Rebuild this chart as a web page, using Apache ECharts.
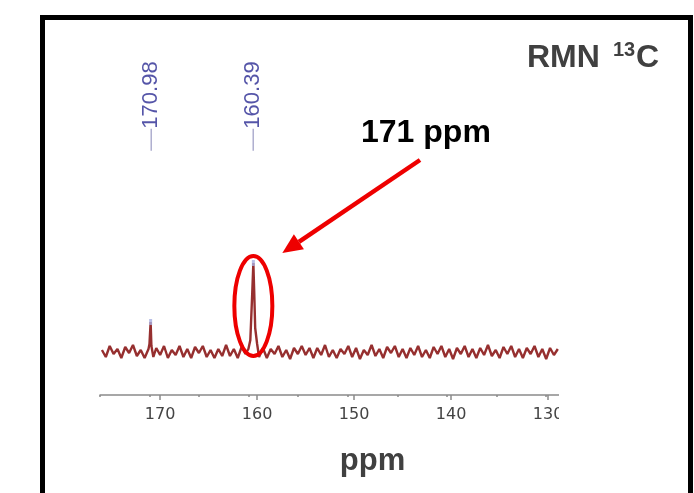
<!DOCTYPE html>
<html>
<head>
<meta charset="utf-8">
<script src="https://cdn.jsdelivr.net/npm/echarts@6/dist/echarts.min.js"></script>
<style>
  html, body { margin: 0; padding: 0; background: #fff; }
  #chart { width: 694px; height: 493px; }
</style>
</head>
<body>
<div id="chart"></div>
<script>
// spectrum trace: [ppm, intensity]
const spectrum = [
  [176.0, 2], [175.6, -5], [175.2, 6], [174.8, -2], [174.4, 3], [174.0, -6], [173.6, 5],
  [173.2, -1], [172.8, 7], [172.4, -4], [172.0, 2], [171.6, -6], [171.2, 3], [171.1, 8],
  [170.98, 30], [170.9, 6], [170.7, -5], [170.4, 4], [170.0, -3], [169.6, 6], [169.2, -6],
  [168.8, 2], [168.4, -3], [168.0, 6], [167.6, -5], [167.2, 3], [166.8, -6], [166.4, 5],
  [166.0, -1], [165.6, 6], [165.2, -5], [164.8, 2], [164.4, -6], [164.0, 3], [163.6, -4],
  [163.2, 7], [162.8, -4], [162.4, 3], [162.0, -6], [161.6, 5], [161.2, -2], [160.9, 3],
  [160.7, 12], [160.5, 60], [160.39, 89], [160.3, 60], [160.2, 24], [160.0, 8], [159.8, -5],
  [159.4, 4], [159.0, -6], [158.6, 3], [158.2, -2], [157.8, 6], [157.4, -5], [157.0, 2],
  [156.6, -7], [156.2, 4], [155.8, -2], [155.4, 6], [155.0, -3], [154.6, 4], [154.2, -6],
  [153.8, 4], [153.4, -3], [153.0, 7], [152.6, -5], [152.2, 2], [151.8, -6], [151.4, 3],
  [151.0, -2], [150.6, 6], [150.2, -5], [149.8, 4], [149.4, -7], [149.0, 2], [148.6, -3],
  [148.2, 7], [147.8, -4], [147.4, 3], [147.0, -6], [146.6, 5], [146.2, -1], [145.8, 6],
  [145.4, -5], [145.0, 3], [144.6, -6], [144.2, 4], [143.8, -3], [143.4, 6], [143.0, -5],
  [142.6, 2], [142.2, -6], [141.8, 5], [141.4, -2], [141.0, 6], [140.6, -5], [140.2, 3],
  [139.8, -7], [139.4, 4], [139.0, -2], [138.6, 6], [138.2, -5], [137.8, 3], [137.4, -6],
  [137.0, 4], [136.6, -3], [136.2, 7], [135.8, -4], [135.4, 2], [135.0, -6], [134.6, 5],
  [134.2, -2], [133.8, 6], [133.4, -5], [133.0, 3], [132.6, -6], [132.2, 4], [131.8, -2],
  [131.4, 6], [131.0, -5], [130.6, 3], [130.2, -7], [129.8, 4], [129.4, -3], [129.0, 3]
];
const peakPpm = [170.98, 160.39];
const peakHeight = [30, 89];
const peakLabelLevel = 246;
const annotatedPeak = 160.39;

const chart = echarts.init(document.getElementById('chart'));

const axisRange = { min: 120, max: 176.2 };

chart.setOption({
  animation: false,
  grid: { left: 100, right: 48.9, top: 20, bottom: 98 },
  xAxis: [
    {
      type: 'value',
      inverse: true,
      min: axisRange.min,
      max: axisRange.max,
      interval: 10,
      name: 'ppm',
      nameLocation: 'middle',
      nameGap: 51,
      nameTextStyle: { fontFamily: 'Liberation Sans', fontWeight: 'bold', fontSize: 31, color: '#404040' },
      axisLine: { onZero: false, lineStyle: { color: '#8a8a8a', width: 1.5 } },
      axisTick: { length: 5, lineStyle: { color: '#8a8a8a', width: 1.5 } },
      axisLabel: { margin: 12, showMaxLabel: false, fontFamily: 'DejaVu Sans', fontSize: 16, color: '#444' },
      splitLine: { show: false }
    },
    {
      type: 'value',
      inverse: true,
      min: axisRange.min,
      max: 175,
      interval: 5,
      position: 'bottom',
      axisLine: { show: false, onZero: false },
      axisTick: { length: 2, lineStyle: { color: '#8a8a8a', width: 1.5 } },
      axisLabel: { show: false },
      splitLine: { show: false }
    }
  ],
  yAxis: { type: 'value', min: -43, max: 332, show: false },
  series: [
    {
      type: 'line',
      data: spectrum,
      symbol: 'none',
      lineStyle: { color: '#962f2f', width: 2.4 },
      z: 2
    },
    {
      type: 'scatter',
      data: peakPpm.map((p, i) => [p, peakHeight[i]]),
      symbol: 'rect',
      symbolSize: [3, 6],
      itemStyle: { color: '#a6aee0' },
      z: 3
    },
    {
      type: 'scatter',
      data: peakPpm.map(p => [p, peakLabelLevel]),
      symbolSize: 1,
      itemStyle: { color: 'transparent' },
      label: {
        show: true,
        position: 'inside',
        rotate: 90,
        formatter: p => '{d|—}{n|' + p.value[0].toFixed(2) + '}',
        rich: {
          d: { fontFamily: 'Liberation Sans', fontSize: 22, color: '#9c9cc4' },
          n: { fontFamily: 'Liberation Sans', fontSize: 22, color: '#2a2a92' }
        }
      }
    }
  ]
});

// annotations: ellipse around the peak and the arrow
const [ex, ey] = chart.convertToPixel({ xAxisIndex: 0, yAxisIndex: 0 }, [annotatedPeak, 46]);
const tip = [ex + 29, ey - 53];
const start = [420, 160];
const dx = tip[0] - start[0], dy = tip[1] - start[1];
const len = Math.hypot(dx, dy);
const ux = dx / len, uy = dy / len;
const headLen = 20, headHalf = 9;
const base = [tip[0] - ux * headLen, tip[1] - uy * headLen];

chart.setOption({
  graphic: [
    {
      type: 'rect', z: 100, silent: true,
      shape: { x: 559, y: 385, width: 125, height: 50 },
      style: { fill: '#fff' }
    },
    {
      type: 'rect', z: 110, silent: true,
      shape: { x: 42.5, y: 17.5, width: 648, height: 500 },
      style: { fill: 'none', stroke: '#000', lineWidth: 5 }
    },
    {
      type: 'ellipse', z: 90, silent: true,
      shape: { cx: ex, cy: ey, rx: 19, ry: 50 },
      style: { fill: 'none', stroke: '#ee0000', lineWidth: 4 }
    },
    {
      type: 'line', z: 90, silent: true,
      shape: { x1: start[0], y1: start[1], x2: base[0], y2: base[1] },
      style: { stroke: '#ee0000', lineWidth: 4.5 }
    },
    {
      type: 'polygon', z: 90, silent: true,
      shape: {
        points: [
          tip,
          [base[0] - uy * headHalf, base[1] + ux * headHalf],
          [base[0] + uy * headHalf, base[1] - ux * headHalf]
        ]
      },
      style: { fill: '#ee0000' }
    },
    {
      type: 'text', z: 90, left: 361, top: 117,
      style: { text: '171 ppm', fontFamily: 'Liberation Sans', fontWeight: 'bold', fontSize: 32, fill: '#000' }
    },
    {
      type: 'text', z: 90, left: 527, top: 42,
      style: { text: 'RMN', fontFamily: 'Liberation Sans', fontWeight: 'bold', fontSize: 32, fill: '#404040' }
    },
    {
      type: 'text', z: 90, left: 613, top: 40,
      style: { text: '13', fontFamily: 'Liberation Sans', fontWeight: 'bold', fontSize: 20, fill: '#404040' }
    },
    {
      type: 'text', z: 90, left: 636, top: 42,
      style: { text: 'C', fontFamily: 'Liberation Sans', fontWeight: 'bold', fontSize: 32, fill: '#404040' }
    }
  ]
});
</script>
</body>
</html>
